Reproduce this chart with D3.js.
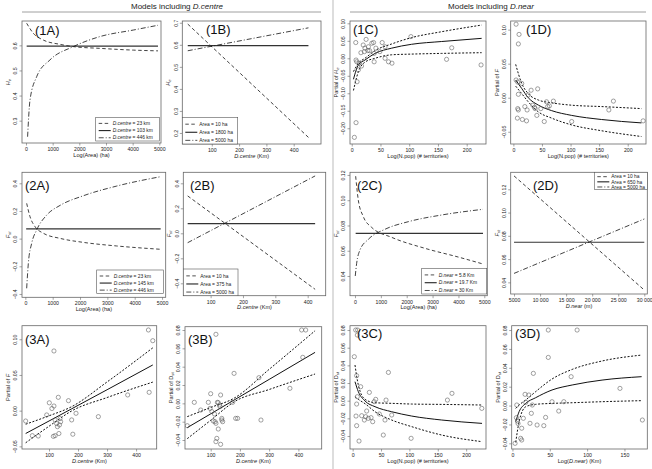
<!DOCTYPE html>
<html><head><meta charset="utf-8">
<script src="https://cdn.jsdelivr.net/npm/d3@7"></script>
<style>body{margin:0;background:#fff} svg{display:block;font-family:"Liberation Sans",Arial,Helvetica,sans-serif}</style>
</head><body><svg id="c" width="652" height="469"></svg>
<script>
// ---------------- DATA ----------------
// 1A  He vs Log(Area)
const p1A_dashX = [25, 275, 650, 1275, 1775, 2775, 4025, 4950];
const p1A_dashY = [0.688, 0.648, 0.621, 0.604, 0.595, 0.588, 0.581, 0.578];
const p1A_solidX = [25, 4950];
const p1A_solidY = [0.597, 0.597];
const p1A_ddX = [60, 150, 400, 900, 1775, 2775, 4025, 4950];
const p1A_ddY = [0.236, 0.382, 0.475, 0.542, 0.595, 0.635, 0.661, 0.680];
const p1A_legend = ["D.centre| = 23 km", "D.centre| = 103 km", "D.centre| = 446 km"];
// 1B  He vs D.centre
const p1B_dashX = [12, 454], p1B_dashY = [0.694, 0.180];
const p1B_solidX = [12, 454], p1B_solidY = [0.596, 0.596];
const p1B_ddX = [12, 454], p1B_ddY = [0.573, 0.677];
const p1B_legend = ["|Area = 10 ha", "|Area = 1800 ha", "|Area = 5000 ha"];
// 1C  Partial of He vs Log(N.pop)
const p1C_ptsX = [7, 7.5, 8.7, 9.3, 7.5, 4.6, 16, 13, 11.6, 17, 20, 22, 23, 25, 28, 31, 29, 35, 38, 39, 39, 42, 49, 53, 58, 58, 64, 70, 103, 165, 174, 225];
const p1C_ptsY = [0.045, -0.005, -0.01, -0.067, -0.184, -0.226, 0.016, -0.014, -0.033, -0.022, 0.038, 0.019, 0.029, 0.054, 0.022, 0.022, 0.033, 0.043, 0.045, 0.014, -0.01, 0.029, 0.019, 0.045, 0.033, 0, -0.01, -0.014, 0.062, -0.003, 0.030, -0.019];
const p1C_fitX = [3, 11.6, 23, 40.6, 69.6, 104, 156.5, 226];
const p1C_fitY = [-0.060, -0.019, -0.005, 0.014, 0.029, 0.040, 0.048, 0.057];
const p1C_upY = [-0.038, -0.014, 0.0, 0.022, 0.041, 0.059, 0.076, 0.095];
const p1C_loY = [-0.092, -0.038, -0.011, 0.0, 0.010, 0.012, 0.014, 0.016];
// 1D  Partial of F vs Log(N.pop)
const p1D_ptsX = [4.7, 9.9, 8.7, 4.7, 7.6, 8.7, 7.6, 8.7, 7, 14.6, 15.7, 23, 20, 24, 26, 31, 34, 37, 38, 41, 42.5, 48, 54, 58, 60, 63, 70, 102, 167, 175, 227];
const p1D_ptsY = [0.108, 0.093, 0.079, 0.026, 0.023, 0.005, -0.016, -0.018, -0.030, 0.021, -0.032, -0.034, -0.013, -0.018, 0.004, 0.011, -0.011, -0.014, -0.016, -0.026, 0.013, -0.016, -0.035, -0.006, -0.013, -0.012, -0.005, -0.035, -0.018, -0.005, -0.034];
const p1D_fitX = [4, 14.6, 26, 44, 67, 102, 154, 224];
const p1D_fitY = [0.026, 0.0135, 0.0, -0.011, -0.019, -0.026, -0.032, -0.037];
const p1D_upY = [0.049, 0.021, 0.006, -0.0035, -0.0075, -0.011, -0.013, -0.016];
const p1D_loY = [0.017, 0.006, -0.006, -0.021, -0.030, -0.040, -0.0485, -0.057];
// 2A  Fst vs Log(Area)
const p2A_dashX = [49, 171, 354, 658, 1268, 2122, 3341, 4950];
const p2A_dashY = [0.255, 0.159, 0.087, 0.039, 0.002, -0.027, -0.053, -0.077];
const p2A_solidX = [30, 4950], p2A_solidY = [0.07, 0.07];
const p2A_ddX = [49, 110, 232, 415, 780, 1268, 2122, 3341, 4950];
const p2A_ddY = [-0.359, -0.178, -0.034, 0.063, 0.170, 0.240, 0.310, 0.380, 0.448];
const p2A_legend = ["D.centre| = 23 km", "D.centre| = 145 km", "D.centre| = 446 km"];
// 2B  Fst vs D.centre
const p2B_dashX = [29, 423], p2B_dashY = [0.299, -0.448];
const p2B_solidX = [29, 423], p2B_solidY = [0.078, 0.078];
const p2B_ddX = [29, 423], p2B_ddY = [-0.075, 0.459];
const p2B_legend = ["|Area = 10 ha", "|Area = 375 ha", "|Area = 5000 ha"];
// 2C  Fst vs Log(Area)
const p2C_dashX = [26, 129, 322, 644, 1418, 2706, 3995, 4950];
const p2C_dashY = [0.119, 0.100, 0.087, 0.0785, 0.0706, 0.0619, 0.0550, 0.0495];
const p2C_solidX = [26, 4950], p2C_solidY = [0.0738, 0.0738];
const p2C_ddX = [10, 64, 193, 515, 1160, 2062, 3351, 4950];
const p2C_ddY = [0.040, 0.050, 0.0606, 0.069, 0.077, 0.083, 0.0883, 0.0928];
const p2C_legend = ["D.near| = 5.8 Km", "D.near| = 19.7 Km", "D.near| = 30 Km"];
// 2D  Fst vs D.near
const p2D_dashX = [5000, 30000], p2D_dashY = [0.1315, 0.0334];
const p2D_solidX = [5000, 30000], p2D_solidY = [0.0745, 0.0745];
const p2D_ddX = [5000, 30000], p2D_ddY = [0.0477, 0.0945];
const p2D_legend = ["|Area = 10 ha", "|Area = 650 ha", "|Area = 5000 ha"];
// 3A  Partial of F vs D.centre
const p3A_ptsX = [442.5, 457.5, 117, 19.5, 42.5, 63, 92, 101, 110, 117, 115, 121, 132, 134, 138, 140, 126, 121, 129, 136, 167, 178, 182, 193, 270, 371, 445];
const p3A_ptsY = [0.113, 0.098, 0.0836, -0.0145, -0.035, -0.0355, -0.006, 0.011, 0.003, 0.0065, -0.036, -0.035, 0.0187, -0.032, -0.011, -0.0155, -0.018, -0.013, -0.0224, -0.020, 0.014, -0.013, -0.033, -0.0037, -0.0084, 0.022, 0.0257];
const p3A_fitX = [19.5, 100, 178, 300, 457.5];
const p3A_fitY = [-0.032, -0.0145, 0.0026, 0.0293, 0.064];
const p3A_upY = [-0.019, -0.0072, 0.0056, 0.0402, 0.088];
const p3A_loY = [-0.045, -0.0218, -0.0004, 0.0184, 0.040];
// 3B  Partial of Dst vs D.centre
const p3B_ptsX = [118, 411, 425, 415, 180, 265, 371, 20, 44, 66, 92, 100, 98, 104, 113, 109, 115, 118, 123, 126, 130, 134, 132, 138, 138, 141, 126, 121, 118, 134, 185.5, 192, 175, 272];
const p3B_ptsY = [0.0753, 0.080, 0.080, 0.0502, 0.0327, 0.028, 0.0164, -0.0244, 0.0011, -0.0073, 0.0011, 0.0105, -0.0055, -0.009, -0.0116, -0.0193, -0.020, -0.0218, 0.0011, 0.0007, -0.0018, 0.0091, -0.0036, -0.0164, -0.0182, -0.020, -0.028, -0.0382, -0.0418, -0.0447, -0.0164, -0.0164, 0.0011, -0.0182];
const p3B_fitX = [20, 100, 180, 300, 457];
const p3B_fitY = [-0.0265, -0.0115, 0.0036, 0.0261, 0.0556];
const p3B_upY = [-0.0145, -0.0045, 0.0056, 0.0371, 0.0792];
const p3B_loY = [-0.0385, -0.0185, 0.0016, 0.0151, 0.032];
// 3C  Partial of Dst vs Log(N.pop)
const p3C_ptsX = [5.3, 8.8, 8.2, 2.9, 7, 8.2, 7, 5.9, 7, 11.2, 14.1, 15.9, 20.6, 22.9, 24.7, 27.6, 29.4, 32.4, 35.3, 38, 40.6, 47, 54, 57, 58.8, 63, 68.8, 103, 167, 175, 227.6];
const p3C_ptsY = [0.080, 0.080, 0.0743, 0.0498, 0.0283, 0.0045, -0.0038, -0.0174, -0.0283, -0.0457, 0.0158, -0.017, -0.0219, -0.0181, -0.0117, -0.020, 0.0094, -0.0192, -0.0238, -0.0011, 0.0015, -0.0151, -0.0389, -0.0219, 0.0007, 0.032, -0.0162, -0.0426, 0.0007, 0.0083, -0.0087];
const p3C_fitX = [4.1, 10, 21.8, 39.4, 68.8, 104, 157, 228];
const p3C_fitY = [0.0215, 0.0102, -0.0004, -0.0068, -0.0125, -0.0174, -0.0219, -0.0257];
const p3C_upY = [0.0404, 0.0177, 0.0015, -0.0023, -0.003, -0.0038, -0.0042, -0.0049];
const p3C_loY = [0.0045, 0.0015, -0.0034, -0.0125, -0.0219, -0.0294, -0.0389, -0.0464];
// 3D  Partial of Dst vs Log(D.near)
const p3D_ptsX = [3.5, 5.3, 6.7, 7.5, 5.8, 11, 12.4, 12.4, 14.6, 16.9, 17.8, 22, 23.5, 25.3, 26.6, 28, 33, 42, 44.4, 48, 48, 53, 62, 68.8, 78.6, 86.6, 144, 174];
const p3D_ptsY = [-0.040, -0.0128, -0.0164, -0.019, 0.0006, -0.0347, -0.0365, -0.024, -0.0135, 0.0119, 0.0034, 0.0112, -0.0188, -0.0082, 0.0006, 0.0341, -0.0206, -0.0213, -0.0125, 0.051, 0.080, 0.0041, -0.0058, 0.0041, 0.0306, 0.080, 0.0182, -0.0153];
const p3D_fitX = [4.4, 8.9, 17.8, 31, 53, 80, 120, 173];
const p3D_fitY = [-0.017, -0.0065, 0.0023, 0.0083, 0.0165, 0.0218, 0.027, 0.0306];
const p3D_upY = [-0.003, 0.0006, 0.0059, 0.0147, 0.0281, 0.0383, 0.0472, 0.0535];
const p3D_loY = [-0.039, -0.0171, -0.0012, 0.0013, 0.0023, 0.003, 0.0041, 0.0052];

// tick values
const tk_area = [0, 1000, 2000, 3000, 4000, 5000];
const tk_dc = [100, 200, 300, 400];
const tk_npop = [0, 50, 100, 150, 200];
const tk_dnear_m = [5000, 10000, 15000, 20000, 25000, 30000];
const tk_dnear_log = [0, 50, 100, 150];

// ---------------- DRAWING ----------------
const svg = d3.select("#c");
const zip = (xs, ys) => xs.map((x, i) => [x, ys[i]]);
const DASH = "3.5,2.5", DOTDASH = "5,2,1,2", DOT = "2,1.6";

function richText(sel, parts) {
  parts.forEach(([t, s]) => {
    const ts = sel.append("tspan").text(t);
    if (s && s.includes("i")) ts.attr("font-style", "italic");
    if (s && s.includes("sub")) ts.attr("baseline-shift", "-25%").attr("font-size", "75%");
  });
}

function panel(c) {
  const g = svg.append("g");
  const x = d3.scaleLinear().domain(c.xd).range([c.f[0], c.f[2]]);
  const y = d3.scaleLinear().domain(c.yd).range([c.f[3], c.f[1]]);
  g.append("rect").attr("x", c.f[0]).attr("y", c.f[1]).attr("width", c.f[2] - c.f[0]).attr("height", c.f[3] - c.f[1])
    .attr("fill", "none").attr("stroke", "#666").attr("stroke-width", 0.8);
  const ax = g.append("g").attr("transform", `translate(0,${c.f[3]})`)
    .call(d3.axisBottom(x).tickValues(c.xt).tickSize(2.5).tickPadding(2).tickFormat(c.xf || d3.format("d")));
  const ay = g.append("g").attr("transform", `translate(${c.f[0]},0)`)
    .call(d3.axisLeft(y).tickValues(c.yt).tickSize(2.5).tickPadding(2).tickFormat(d3.format(c.yfmt)));
  [ax, ay].forEach(a => {
    a.select(".domain").remove();
    a.selectAll("line").attr("stroke", "#666").attr("stroke-width", 0.6);
    a.selectAll("text").attr("font-size", 5.2).attr("fill", "#222").attr("font-family", "Liberation Sans, Arial, sans-serif");
  });
  ay.selectAll("text").attr("text-anchor", "middle").attr("x", 0).attr("dy", 0).attr("y", -4.8).attr("transform", "rotate(-90)");
  const xt = g.append("text").attr("x", (c.f[0] + c.f[2]) / 2).attr("y", c.f[3] + 13.5).attr("text-anchor", "middle")
    .attr("font-size", 5.6).attr("fill", "#222");
  richText(xt, c.xl);
  const yt = g.append("text").attr("transform", `translate(${c.f[0] - 12},${(c.f[1] + c.f[3]) / 2}) rotate(-90)`)
    .attr("text-anchor", "middle").attr("font-size", 5.6).attr("fill", "#222");
  richText(yt, c.yl);
  const cid = "clip" + c.key;
  svg.append("clipPath").attr("id", cid).append("rect").attr("x", c.f[0]).attr("y", c.f[1]).attr("width", c.f[2] - c.f[0]).attr("height", c.f[3] - c.f[1]);
  const pg = g.append("g").attr("clip-path", `url(#${cid})`);
  const line = d3.line().x(d => x(d[0])).y(d => y(d[1])).curve(d3.curveMonotoneX);
  (c.series || []).forEach(s => {
    pg.append("path").attr("d", line(zip(s.x, s.y))).attr("fill", "none")
      .attr("stroke", s.col || "#111").attr("stroke-width", s.w || 0.9).attr("stroke-dasharray", s.dash || null);
  });
  if (c.pts) {
    pg.selectAll("circle.p").data(zip(c.pts[0], c.pts[1])).enter().append("circle")
      .attr("cx", d => x(d[0])).attr("cy", d => y(d[1])).attr("r", 2.1)
      .attr("fill", "none").attr("stroke", "#555").attr("stroke-width", 0.55);
  }
  g.append("text").attr("x", c.lab[0]).attr("y", c.lab[1]).attr("font-size", 13).attr("fill", "#111").text(c.id);
  if (c.leg) {
    const L = c.leg;
    g.append("rect").attr("x", L.box[0]).attr("y", L.box[1]).attr("width", L.box[2] - L.box[0]).attr("height", L.box[3] - L.box[1])
      .attr("fill", "#fff").attr("stroke", "#555").attr("stroke-width", 0.6);
    const styles = [[DASH, 0.8, "#222"], [null, 1.1, "#222"], [DOTDASH, 0.8, "#222"]];
    const rh = (L.box[3] - L.box[1]) / 3.3;
    L.labels.forEach((t, i) => {
      const yy = L.box[1] + rh * (i + 0.85);
      g.append("line").attr("x1", L.box[0] + 3).attr("x2", L.box[0] + 15).attr("y1", yy).attr("y2", yy)
        .attr("stroke", styles[i][2]).attr("stroke-width", styles[i][1]).attr("stroke-dasharray", styles[i][0]);
      const [a, b] = t.split("|");
      const tx = g.append("text").attr("x", L.box[0] + 17).attr("y", yy + 1.7).attr("font-size", 4.9).attr("fill", "#222");
      const parts = [];
      if (a) parts.push([a, "i"]);
      parts.push([b, ""]);
      richText(tx, parts);
    });
  }
}

const He = [["H", "i"], ["e", "isub"]];
const Fst = [["F", "i"], ["st", "isub"]];
const lbArea = [["Log(Area) (ha)", ""]];
const lbDc = [["D.centre", "i"], [" (Km)", ""]];
const lbNpop = [["Log(", ""], ["N.pop", ""], [") (# territories)", ""]];
const dashS = (xs, ys) => ({ x: xs, y: ys, dash: DASH, w: 0.8 });
const solidS = (xs, ys) => ({ x: xs, y: ys, w: 1.2, col: "#333" });
const ddS = (xs, ys) => ({ x: xs, y: ys, dash: DOTDASH, w: 0.8 });
const fitS = (xs, ys) => ({ x: xs, y: ys, w: 1.0 });
const ciS = (xs, ys) => ({ x: xs, y: ys, w: 1.0, dash: DOT });
const fmtThou = v => v >= 10000 ? String(v).replace(/(\d+)(\d{3})$/, "$1 $2") : String(v);

const cfgs = [
  { key: "1A", id: "(1A)", f: [22, 21, 161, 143], xd: [-150, 5063], yd: [0.211, 0.697], xt: tk_area, yt: [0.3, 0.4, 0.5, 0.6], yfmt: ".1f",
    xl: lbArea, yl: He, lab: [35, 35],
    series: [dashS(p1A_dashX, p1A_dashY), solidS(p1A_solidX, p1A_solidY), ddS(p1A_ddX, p1A_ddY)],
    leg: { box: [95.7, 117.3, 159.3, 141], labels: p1A_legend } },
  { key: "1B", id: "(1B)", f: [182.3, 21, 321, 144], xd: [-8, 500], yd: [0.150, 0.708], xt: tk_dc, yt: [0.2, 0.3, 0.4, 0.5, 0.6, 0.7], yfmt: ".1f",
    xl: lbDc, yl: He, lab: [206, 34],
    series: [dashS(p1B_dashX, p1B_dashY), solidS(p1B_solidX, p1B_solidY), ddS(p1B_ddX, p1B_ddY)],
    leg: { box: [182.3, 117.3, 237.7, 144], labels: p1B_legend } },
  { key: "1C", id: "(1C)", f: [350, 21, 486, 144], xd: [-3, 233.6], yd: [-0.245, 0.1066], xt: tk_npop, yt: [-0.20, -0.15, -0.10, -0.05, 0.00, 0.05, 0.10], yfmt: ".2f",
    xl: lbNpop, yl: [["Partial of ", ""], ["H", "i"], ["e", "isub"]], lab: [353, 34], pts: [p1C_ptsX, p1C_ptsY],
    series: [fitS(p1C_fitX, p1C_fitY), ciS(p1C_fitX, p1C_upY), ciS(p1C_fitX, p1C_loY)] },
  { key: "1D", id: "(1D)", f: [510.7, 21, 646, 144], xd: [-4.7, 232], yd: [-0.068, 0.1127], xt: tk_npop, yt: [-0.05, 0.00, 0.05, 0.10], yfmt: ".2f",
    xl: lbNpop, yl: [["Partial of ", ""], ["F", "i"]], lab: [526, 34], pts: [p1D_ptsX, p1D_ptsY],
    series: [fitS(p1D_fitX, p1D_fitY), ciS(p1D_fitX, p1D_upY), ciS(p1D_fitX, p1D_loY)] },
  { key: "2A", id: "(2A)", f: [22, 172.3, 165.7, 297.3], xd: [-122, 5134], yd: [-0.424, 0.4795], xt: tk_area, yt: [-0.4, -0.2, 0.0, 0.2, 0.4], yfmt: ".1f",
    xl: lbArea, yl: Fst, lab: [25, 190],
    series: [dashS(p2A_dashX, p2A_dashY), solidS(p2A_solidX, p2A_solidY), ddS(p2A_ddX, p2A_ddY)],
    leg: { box: [96.7, 270, 163.3, 293.3], labels: p2A_legend } },
  { key: "2B", id: "(2B)", f: [183.3, 172.3, 325.7, 295.7], xd: [15.5, 455.7], yd: [-0.499, 0.488], xt: tk_dc, yt: [-0.4, -0.2, 0.0, 0.2, 0.4], yfmt: ".1f",
    xl: lbDc, yl: Fst, lab: [190, 190],
    series: [dashS(p2B_dashX, p2B_dashY), solidS(p2B_solidX, p2B_solidY), ddS(p2B_ddX, p2B_ddY)],
    leg: { box: [183.3, 269, 238, 295.7], labels: p2B_legend } },
  { key: "2C", id: "(2C)", f: [350, 172.3, 487.3, 295.7], xd: [-193, 5116], yd: [0.0244, 0.1221], xt: tk_area, yt: [0.04, 0.06, 0.08, 0.10, 0.12], yfmt: ".2f",
    xl: lbArea, yl: Fst, lab: [357, 190],
    series: [dashS(p2C_dashX, p2C_dashY), solidS(p2C_solidX, p2C_solidY), ddS(p2C_ddX, p2C_ddY)],
    leg: { box: [421.7, 268.3, 486.7, 294], labels: p2C_legend } },
  { key: "2D", id: "(2D)", f: [510.7, 172.3, 647.3, 294], xd: [4361, 30576], yd: [0.030, 0.1346], xt: tk_dnear_m, yt: [0.04, 0.06, 0.08, 0.10, 0.12], yfmt: ".2f",
    xf: fmtThou, xl: [["D.near", "i"], [" (m)", ""]], yl: Fst, lab: [533, 190],
    series: [dashS(p2D_dashX, p2D_dashY), solidS(p2D_solidX, p2D_solidY), ddS(p2D_ddX, p2D_ddY)],
    leg: { box: [594.3, 172.3, 647.3, 189.3], labels: p2D_legend } },
  { key: "3A", id: "(3A)", f: [22, 325.7, 156.7, 449], xd: [6.9, 471], yd: [-0.0537, 0.119], xt: tk_dc, yt: [-0.05, 0.00, 0.05, 0.10], yfmt: ".2f",
    xl: lbDc, yl: [["Partial of ", ""], ["F", "i"]], lab: [25, 344], pts: [p3A_ptsX, p3A_ptsY],
    series: [fitS(p3A_fitX, p3A_fitY), ciS(p3A_fitX, p3A_upY), ciS(p3A_fitX, p3A_loY)] },
  { key: "3B", id: "(3B)", f: [185, 326.7, 321.7, 449], xd: [12.2, 479.7], yd: [-0.0498, 0.0836], xt: tk_dc, yt: [-0.04, -0.02, 0.00, 0.02, 0.04, 0.06, 0.08], yfmt: ".2f",
    xl: lbDc, yl: [["Partial of D", ""], ["st", "sub"]], lab: [188, 344], pts: [p3B_ptsX, p3B_ptsY],
    series: [fitS(p3B_fitX, p3B_fitY), ciS(p3B_fitX, p3B_upY), ciS(p3B_fitX, p3B_loY)] },
  { key: "3C", id: "(3C)", f: [350, 325.7, 486, 449], xd: [-4.7, 235], yd: [-0.0547, 0.0849], xt: tk_npop, yt: [-0.04, -0.02, 0.00, 0.02, 0.04, 0.06, 0.08], yfmt: ".2f",
    xl: lbNpop, yl: [["Partial of D", ""], ["st", "sub"]], lab: [357, 338], pts: [p3C_ptsX, p3C_ptsY],
    series: [fitS(p3C_fitX, p3C_fitY), ciS(p3C_fitX, p3C_upY), ciS(p3C_fitX, p3C_loY)] },
  { key: "3D", id: "(3D)", f: [511.7, 325.7, 647.3, 449], xd: [-1, 180.6], yd: [-0.046, 0.0846], xt: tk_dnear_log, yt: [-0.04, -0.02, 0.00, 0.02, 0.04, 0.06, 0.08], yfmt: ".2f",
    xl: [["Log(", ""], ["D.near", "i"], [") (Km)", ""]], yl: [["Partial of D", ""], ["st", "sub"]], lab: [515, 338], pts: [p3D_ptsX, p3D_ptsY],
    series: [fitS(p3D_fitX, p3D_fitY), ciS(p3D_fitX, p3D_upY), ciS(p3D_fitX, p3D_loY)] }
];
cfgs.forEach(panel);

// headers and separators
svg.append("line").attr("x1", 333).attr("x2", 333).attr("y1", 0).attr("y2", 469).attr("stroke", "#aaa").attr("stroke-width", 0.8);
[[22, 321, 177, "D.centre"], [350, 646, 491, "D.near"]].forEach(([a, b, cx, t]) => {
  svg.append("line").attr("x1", a).attr("x2", b).attr("y1", 12).attr("y2", 12).attr("stroke", "#888").attr("stroke-width", 0.8);
  const tx = svg.append("text").attr("x", cx).attr("y", 9).attr("text-anchor", "middle").attr("font-size", 8).attr("fill", "#222");
  richText(tx, [["Models including ", ""], [t, "i"]]);
});
</script></body></html>
